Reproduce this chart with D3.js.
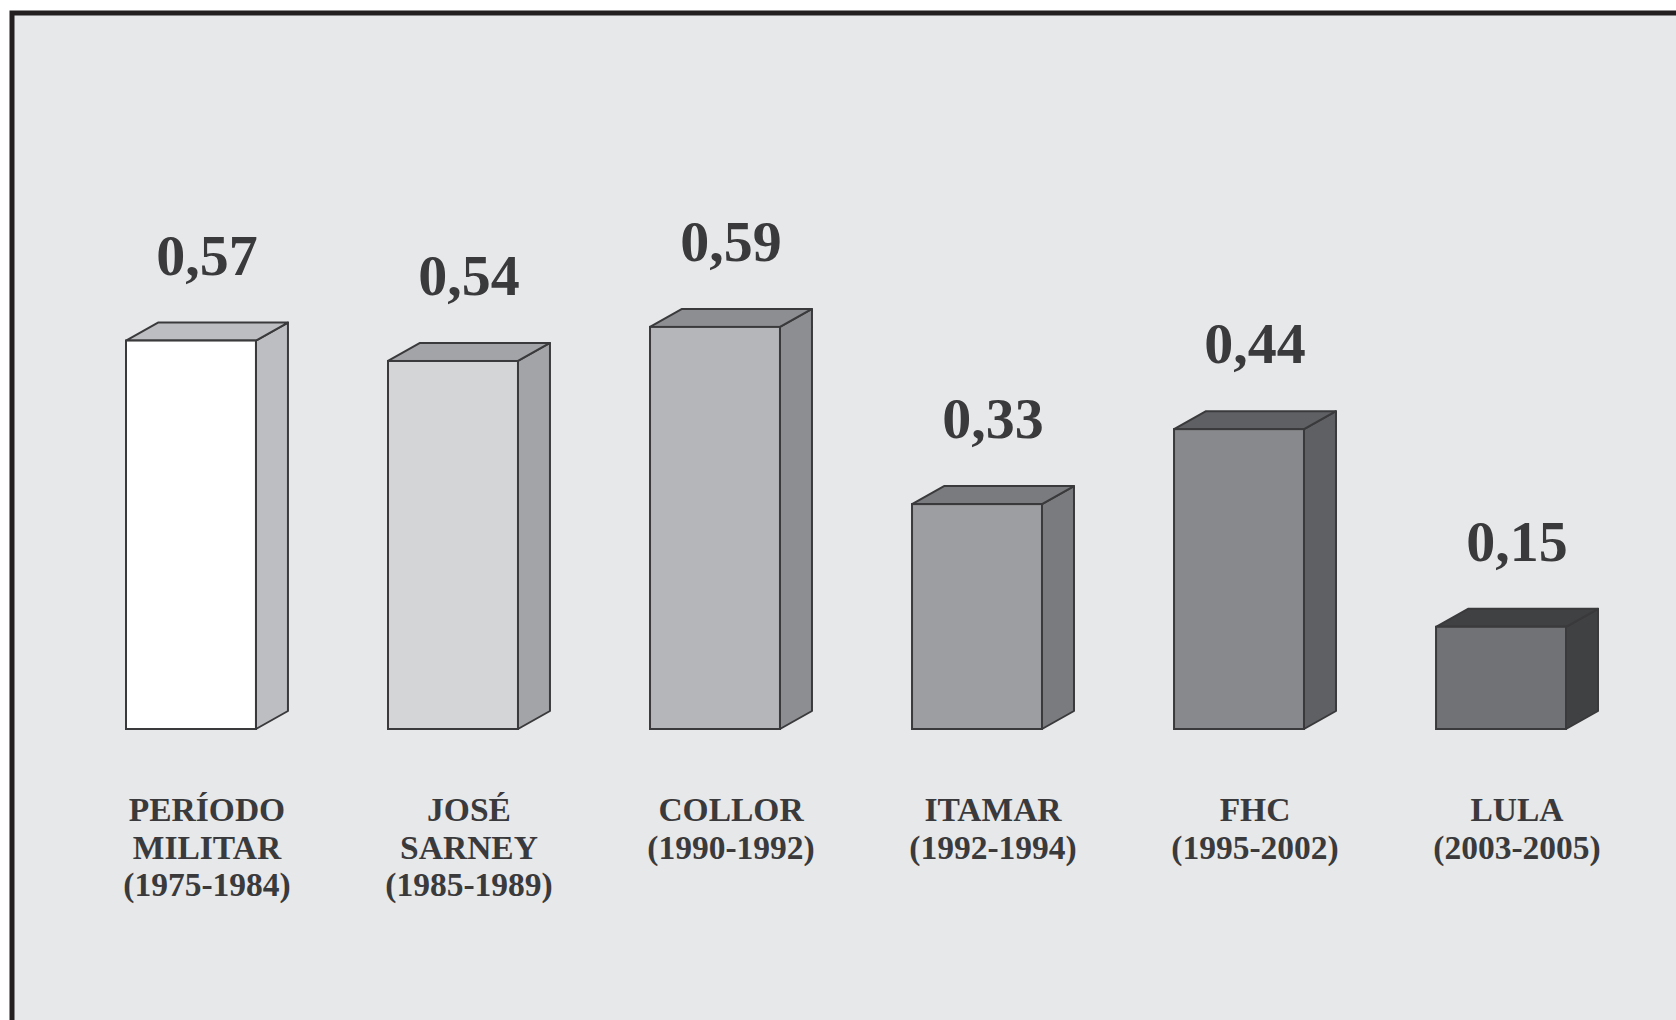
<!DOCTYPE html>
<html>
<head>
<meta charset="utf-8">
<script src="https://cdn.jsdelivr.net/npm/d3@7"></script>
<style>
  html, body { margin: 0; padding: 0; background: #ffffff; }
  svg { display: block; }
</style>
</head>
<body>
<svg id="chart" width="1676" height="1020"></svg>
<script>
const categories = ["PERÍODO MILITAR", "JOSÉ SARNEY", "COLLOR", "ITAMAR", "FHC", "LULA"];
const labelLines = [
  ["PERÍODO", "MILITAR", "(1975-1984)"],
  ["JOSÉ", "SARNEY", "(1985-1989)"],
  ["COLLOR", "(1990-1992)"],
  ["ITAMAR", "(1992-1994)"],
  ["FHC", "(1995-2002)"],
  ["LULA", "(2003-2005)"]
];
const values = [0.57, 0.54, 0.59, 0.33, 0.44, 0.15];
const valueLabels = ["0,57", "0,54", "0,59", "0,33", "0,44", "0,15"];
const frontColors = ["#ffffff", "#d4d5d7", "#b5b6b9", "#9d9ea1", "#88898c", "#717275"];
const sideColors  = ["#bdbec1", "#a3a4a7", "#8d8e91", "#7a7b7e", "#5f6063", "#404143"];

const svg = d3.select("#chart");
const W = 1676, H = 1020;

// panel background with top and left border
svg.append("rect").attr("x", 12).attr("y", 13).attr("width", W).attr("height", H)
  .attr("fill", "#e7e8ea");
svg.append("path")
  .attr("d", `M12,${H} L12,13 L${W},13`)
  .attr("fill", "none").attr("stroke", "#231f20").attr("stroke-width", 5);

const x = d3.scaleBand().domain(categories).range([126, 1566]).paddingInner(0.504).paddingOuter(0);
const y = d3.scaleLinear().domain([0, 1]).range([729, 729 - 681.5]);
const dx = 32, dy = -18;
const stroke = "#3a3a3c";
const textColor = "#3a3a3c";
const bw = x.bandwidth();

const g = svg.append("g");
const bars = g.selectAll("g.bar").data(categories).enter().append("g").attr("class", "bar");

bars.each(function(c, i) {
  const el = d3.select(this);
  const x0 = x(c), x1 = x0 + bw;
  const yt = y(values[i]), yb = y(0);
  // side face
  el.append("path")
    .attr("d", `M${x1},${yb} L${x1 + dx},${yb + dy} L${x1 + dx},${yt + dy} L${x1},${yt} Z`)
    .attr("fill", sideColors[i]).attr("stroke", stroke).attr("stroke-width", 2).attr("stroke-linejoin", "round");
  // top face
  el.append("path")
    .attr("d", `M${x0},${yt} L${x0 + dx},${yt + dy} L${x1 + dx},${yt + dy} L${x1},${yt} Z`)
    .attr("fill", sideColors[i]).attr("stroke", stroke).attr("stroke-width", 2).attr("stroke-linejoin", "round");
  // front face
  el.append("rect")
    .attr("x", x0).attr("y", yt).attr("width", bw).attr("height", yb - yt)
    .attr("fill", frontColors[i]).attr("stroke", stroke).attr("stroke-width", 2);
  const cx = x0 + (bw + dx) / 2;
  // value label
  el.append("text")
    .attr("x", cx).attr("y", yt + dy - 48)
    .attr("text-anchor", "middle")
    .attr("font-family", "'Liberation Serif', 'Times New Roman', serif")
    .attr("font-weight", "bold").attr("font-size", 58)
    .attr("fill", textColor)
    .text(valueLabels[i]);
  // category label
  const t = el.append("text")
    .attr("text-anchor", "middle")
    .attr("font-family", "'Liberation Serif', 'Times New Roman', serif")
    .attr("font-weight", "bold").attr("font-size", 33.5)
    .attr("fill", textColor);
  labelLines[i].forEach((line, j) => {
    t.append("tspan").attr("x", cx).attr("y", 821 + j * 37.5).text(line);
  });
});
</script>
</body>
</html>
